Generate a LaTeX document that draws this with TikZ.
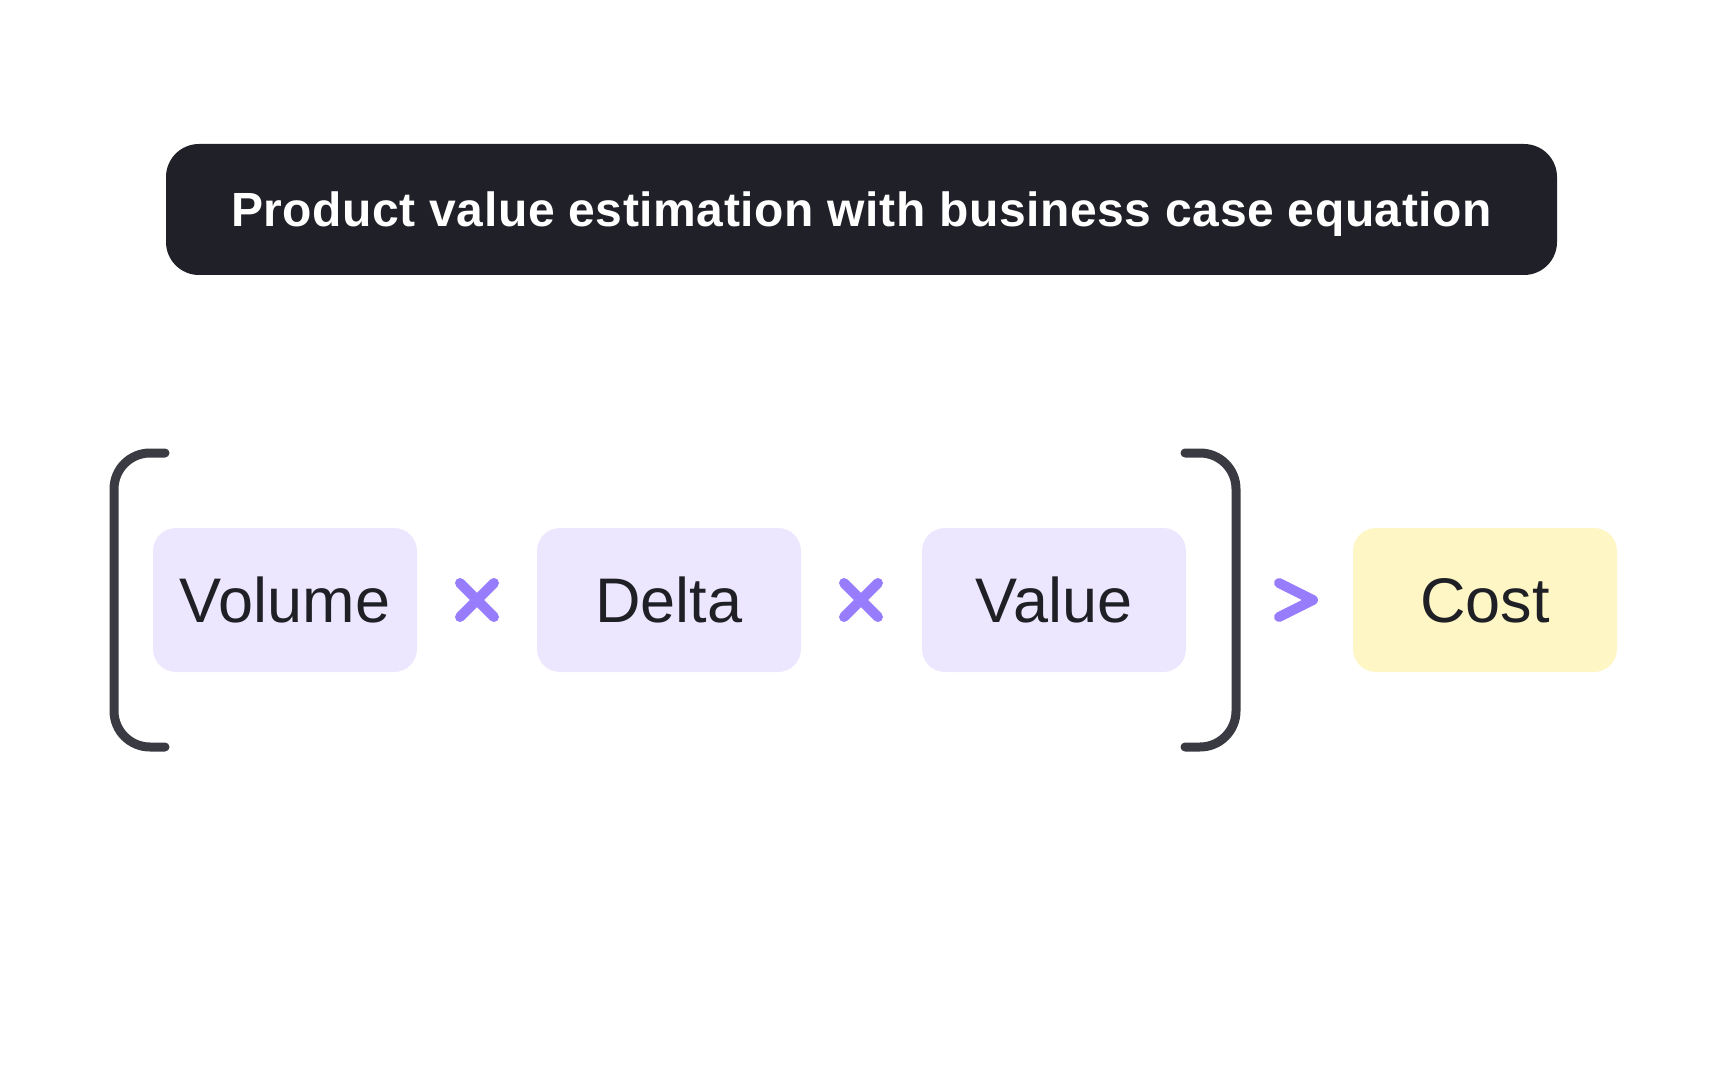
\documentclass[tikz,border=0pt]{standalone}
\usepackage{fontspec}
\setmainfont{Liberation Sans}

\definecolor{titlebg}{HTML}{202028}
\definecolor{lilac}{HTML}{ECE7FE}
\definecolor{butter}{HTML}{FEF6C4}
\definecolor{opviolet}{HTML}{977DFC}
\definecolor{ink}{HTML}{1F1F26}
\definecolor{brackgray}{HTML}{3A3A42}

\begin{document}
\begin{tikzpicture}[x=0.5pt, y=-0.5pt]

\tikzset{titlebox/.style={fill=titlebg, text=white, rounded corners=16.5pt, minimum width=695.5pt, minimum height=65.5pt, inner sep=0pt, font=\bfseries\fontsize{24}{29}\selectfont\addfontfeatures{LetterSpace=1.2}, text height=17.2pt, text depth=0pt}}
\tikzset{termbox/.style={fill=lilac, text=ink, rounded corners=11.5pt, minimum width=132pt, minimum height=72pt, inner sep=0pt, font=\fontsize{31.5}{36}\selectfont, text height=22.5pt, text depth=0pt}}
\tikzset{opline/.style={draw=opviolet, line width=5pt, line cap=round, line join=round}}
\tikzset{bracket/.style={draw=brackgray, line width=4.5pt, line cap=round, rounded corners=18pt}}

\useasboundingbox (0,0) rectangle (1728,1080);

\node[titlebox] (title) at (861.5,209.5) {Product value estimation with business case equation};

\node[termbox] (volume) at (285,600) {Volume};
\node[termbox] (delta) at (669,600) {Delta};
\node[termbox] (value) at (1054,600) {Value};
\node[termbox, fill=butter] (cost) at (1485,600) {Cost};

% brackets round the product
\draw[bracket] (165,453) -- (114,453) -- (114,747) -- (165,747);
\draw[bracket] (1185,453) -- (1236,453) -- (1236,747) -- (1185,747);

% operators
\foreach \cx in {477,861}
  \draw[opline] (\cx-17,583) -- (\cx+17,617) (\cx-17,617) -- (\cx+17,583);
\draw[opline] (1279,583) -- (1313,600) -- (1279,617);
\end{tikzpicture}
\end{document}
